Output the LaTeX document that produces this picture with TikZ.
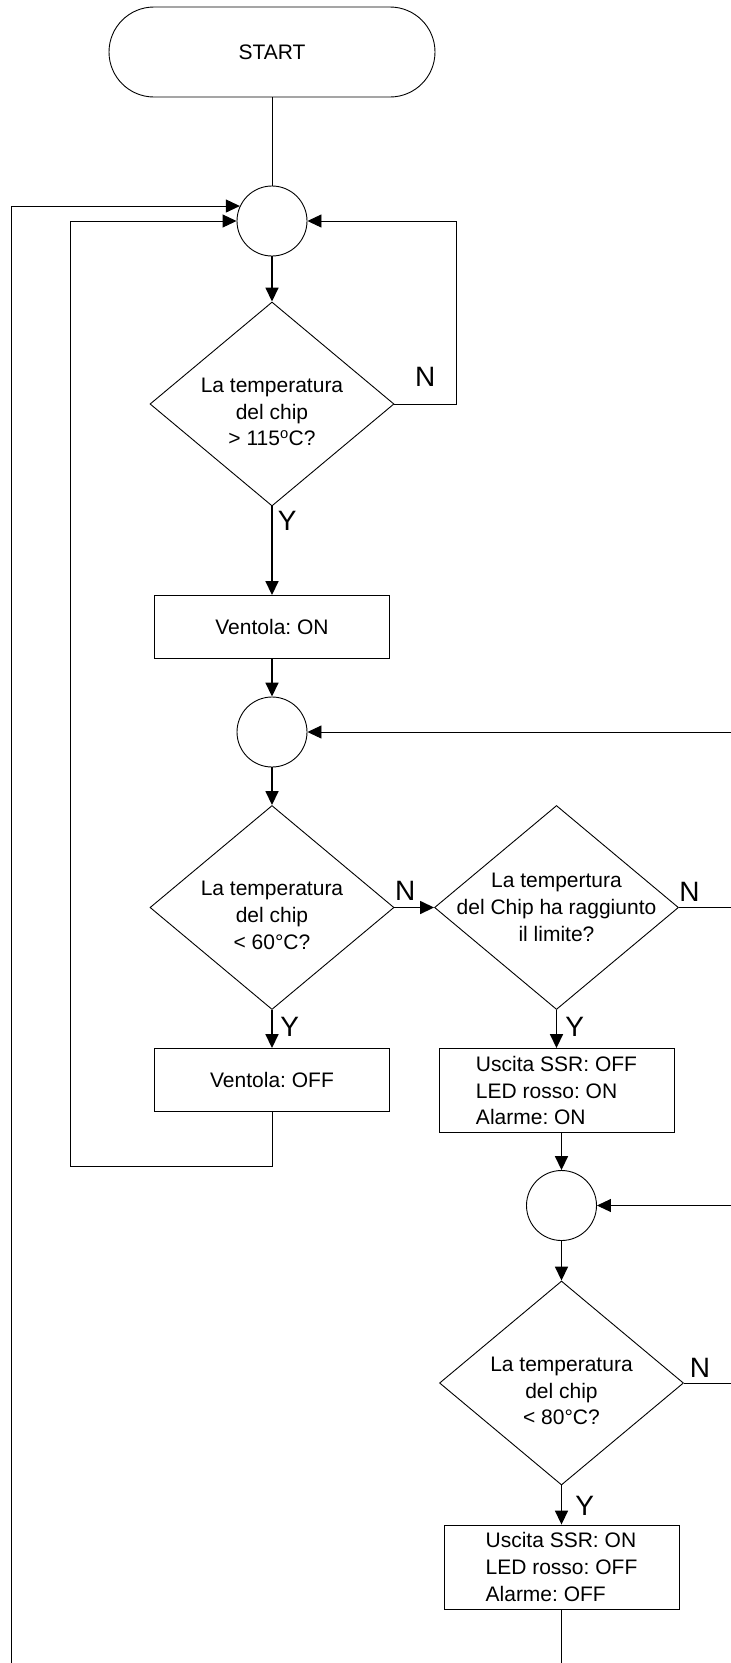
\documentclass[tikz,border=0pt]{standalone}
\usepackage{fontspec}
\setmainfont{Liberation Sans}
\usepackage{tikz}
\usetikzlibrary{shapes.geometric,arrows.meta,positioning}
\frenchspacing

\begin{document}
\begin{tikzpicture}[>={Triangle[length=14pt,width=13pt]},x=1pt,y=1pt,line width=0.9pt,
	font=\fontsize{21}{26.7}\selectfont]
\tikzstyle{start node}=[rectangle,draw,rounded corners=45pt,minimum width=326pt,minimum height=90pt]
\tikzstyle{join node}=[circle,draw,minimum size=70pt,inner sep=0]
\tikzstyle{test node}=[diamond,draw,minimum width=244pt,minimum height=204pt,inner sep=0]
\tikzstyle{do node}=[rectangle,draw,minimum width=235pt,minimum height=63pt,align=left]

\tikzset{
	test text/.style={align=center,yshift=-8pt},
	yn/.style={font=\fontsize{28}{28}\selectfont,inner sep=0},
	flow/.style={->,line width=1.6pt},
	wire/.style={line width=0.9pt}
}

\useasboundingbox (0,0) rectangle (731,-1663);

      \node[start node] (start) at (272,-52) {START};
      \node[join node] (j1) [node distance=169pt,below of=start] {};
      \node[test node,label={[test text]center:La temperatura\\del chip\\> 115\textsuperscript{o}C?}] (d1) [node distance=183pt,below of=j1] {};
      \node[do node] (fanon) [node distance=223pt,below of=d1] {Ventola: ON};
      \node[join node] (j2) [node distance=105pt,below of=fanon] {};
      \node[test node,label={[test text]center:La temperatura\\del chip\\< 60°C?}] (d2) [node distance=175.5pt,below of=j2] {};
      \node[test node,label={[test text,yshift=8pt]center:La tempertura\\del Chip ha raggiunto\\il limite?}] (d3) [node distance=284.5pt,right of=d2] {};
      \node[do node] (fanoff) [node distance=172.5pt,below of=d2] {Ventola: OFF};
      \node[do node,minimum height=84pt] (alarm) [node distance=183pt,below of=d3] {Uscita SSR: OFF\\LED rosso: ON\\Alarme: ON};
      \node[join node] (j3) [node distance=115pt,below of=alarm,xshift=5pt] {};
      \node[test node,label={[test text]center:La temperatura\\del chip\\< 80°C?}] (d4) [node distance=177.5pt,below of=j3] {};
      \node[do node,minimum height=84pt] (reset) [node distance=184pt,below of=d4] {Uscita SSR: ON\\LED rosso: OFF\\Alarme: OFF};

      \coordinate (e1) at (d3 -| 731,0);
      \coordinate (e2) at (j2 -| 731,0);
      \coordinate (e3) at (j3 -| 731,0);
      \coordinate (e4) at (d4 -| 731,0);
      \coordinate (b1) at (11.2,-1663);
      \coordinate (b2) at (reset |- 0,-1663);

    \path[flow] (j1) edge (d1)
    		(d1) edge node[yn,pos=0,below right=4pt and 5pt] {Y} (fanon)
    		(fanon) edge (j2)
    		(j2) edge (d2)
    		(d2) edge node[yn,pos=0.27,above=6pt] {N} (d3)
    		(d2) edge node[yn,pos=0,below right=6pt and 7.5pt] {Y} (fanoff)
    		(d3) edge node[yn,pos=0,below right=6pt and 8pt] {Y} (alarm)
    		(alarm.south -| j3) edge (j3)
    		(j3) edge (d4)
    		(d4) edge node[yn,pos=0,below right=10pt and 13pt] {Y} (reset)
;
    \path[wire] (start) edge (j1)
    		(d3) edge node[yn,pos=0.2,above=6pt] {N} (e1)
    		(d4) edge node[yn,pos=0.34,above=5pt] {N} (e4)
    		(reset) edge (b2)
    		(e2) edge[->] (j2)
    		(e3) edge[->] (j3)
;
    \draw[wire,->] (d1.east) -- node[yn,above=17pt] {N} ++(61.5,0) |- (j1);
    \draw[wire,->] (fanoff) -- ++(0,-86.7) -- ++(-201.4,0) |- (j1);
    \draw[wire,->] (b1) |- (j1.155);
\end{tikzpicture}
\end{document}
